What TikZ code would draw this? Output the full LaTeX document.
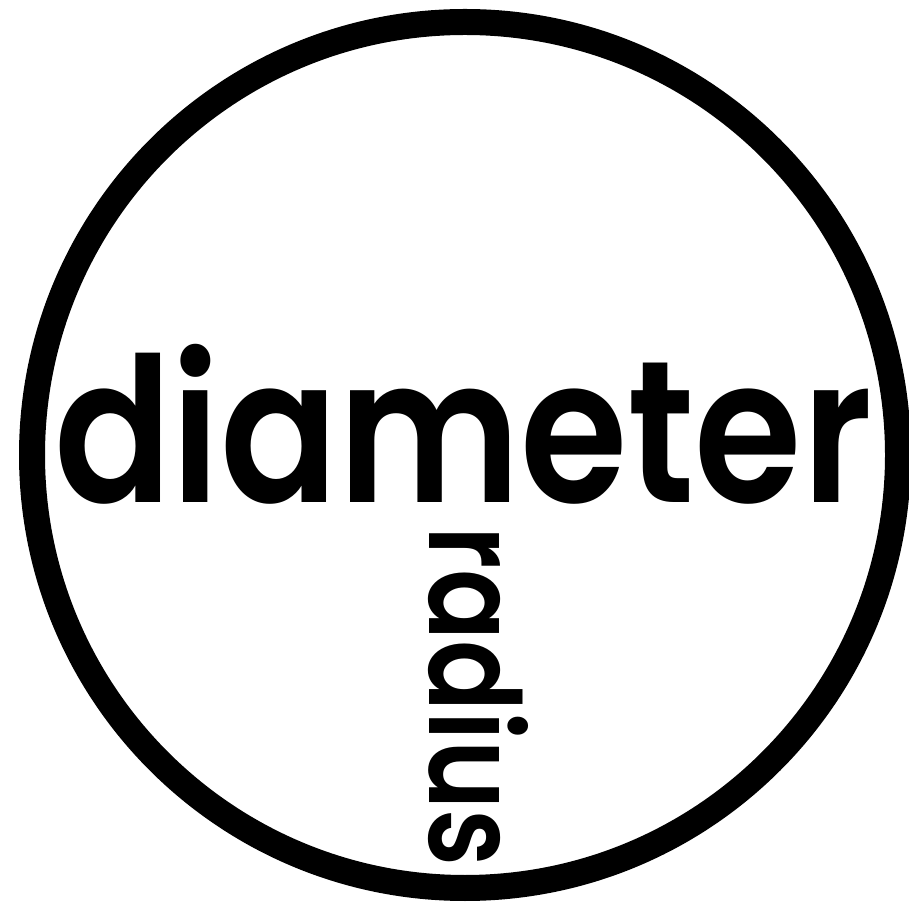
\documentclass[tikz,border=0pt]{standalone}
\usepackage{fontspec}
\setmainfont{Poppins}
\newfontfamily\heavyfont{Poppins SemiBold}
\usepackage{graphicx}
\usetikzlibrary{positioning}

\begin{document}
\begin{tikzpicture}[
  x=1pt, y=1pt,
  rim/.style={
    circle, draw, line width=26pt,
    minimum size=866pt, inner sep=0pt},
  word/.style={
    inner sep=0pt, outer sep=0pt, anchor=base west,
    font=\heavyfont},
]
  \useasboundingbox (0,0) rectangle (909,907);
  \node[rim]  (rim)  at (465,452) {};
  \node[word] (diam) at (54,404)
      {\resizebox{818pt}{158pt}{diameter}};
  \node[word, rotate=-90] (rad) at (429,380)
      {\resizebox{340pt}{99pt}{radius}};
\end{tikzpicture}
\end{document}
